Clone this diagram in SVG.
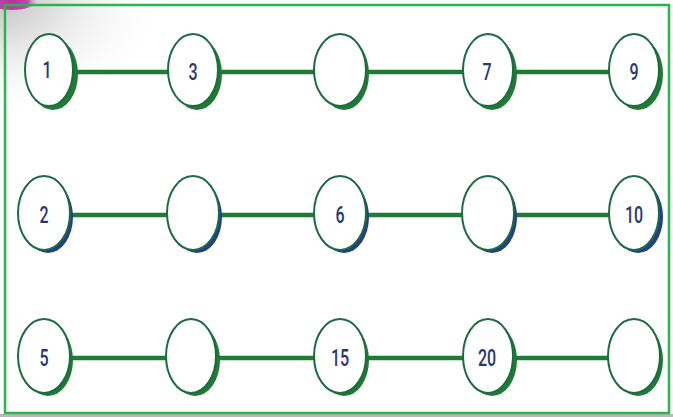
<svg xmlns="http://www.w3.org/2000/svg" width="673" height="417" viewBox="0 0 673 417">
<defs>
<radialGradient id="corner" cx="0" cy="0" r="1" gradientUnits="userSpaceOnUse" gradientTransform="translate(0,0) scale(170,120)">
<stop offset="0" stop-color="#c4c4c4"/>
<stop offset="0.45" stop-color="#ebebeb"/>
<stop offset="1" stop-color="#ffffff" stop-opacity="0"/>
</radialGradient>
<radialGradient id="blob" cx="12" cy="0" r="26" gradientUnits="userSpaceOnUse">
<stop offset="0" stop-color="#c02aa0"/>
<stop offset="0.6" stop-color="#b84aa8"/>
<stop offset="1" stop-color="#c8a0c8" stop-opacity="0"/>
</radialGradient>
</defs>
<style>
.frame{fill:none;stroke:#2bb34f;stroke-width:2.5}
.conn{stroke:#1f7a33;stroke-width:4.5;fill:none}
.sg{fill:#1f7a33}
.sb{fill:#223f8c}
.face{fill:#ffffff;stroke:#1d6b40;stroke-width:2}
.lbl{font-family:Roboto,"Liberation Sans",sans-serif;font-weight:500;font-size:20px;fill:#2a3775;text-anchor:middle;dominant-baseline:central}
</style>
<rect width="673" height="417" fill="#ffffff"/>
<rect width="200" height="130" fill="url(#corner)"/>
<ellipse cx="12" cy="0" rx="26" ry="10" fill="url(#blob)"/>
<rect x="0" y="414" width="673" height="3" fill="#b9b9b9"/>
<rect class="frame" x="5" y="5" width="664" height="408"/>
<g id="connectors">
<line class="conn" x1="49" y1="72" x2="634" y2="72"/>
<line class="conn" x1="44" y1="215" x2="634" y2="215"/>
<line class="conn" x1="44" y1="358" x2="634" y2="358"/>
</g>
<g id="n1"><ellipse class="sg" cx="53" cy="74" rx="25" ry="36"/><ellipse class="face" cx="49" cy="70" rx="24" ry="36"/><text class="lbl" transform="translate(47,70) scale(0.8,1.15)">1</text></g>
<g id="n3"><ellipse class="sg" cx="197" cy="74" rx="25" ry="36"/><ellipse class="face" cx="193" cy="70" rx="25" ry="36"/><text class="lbl" transform="translate(193,72) scale(0.8,1.15)">3</text></g>
<g id="n5b"><ellipse class="sg" cx="344" cy="74" rx="25" ry="36"/><ellipse class="face" cx="340" cy="70" rx="26" ry="36"/></g>
<g id="n7"><ellipse class="sg" cx="492" cy="74" rx="25" ry="36"/><ellipse class="face" cx="488" cy="70" rx="25" ry="36"/><text class="lbl" transform="translate(487,72) scale(0.8,1.15)">7</text></g>
<g id="n9"><ellipse class="sg" cx="638" cy="74" rx="25" ry="36"/><ellipse class="face" cx="634" cy="70" rx="25" ry="36"/><text class="lbl" transform="translate(634,72) scale(0.8,1.15)">9</text></g>
<g id="n2"><ellipse class="sb" cx="48" cy="217" rx="25" ry="36"/><ellipse class="face" cx="44" cy="213" rx="26" ry="37"/><text class="lbl" transform="translate(44,215) scale(0.8,1.15)">2</text></g>
<g id="n4b"><ellipse class="sb" cx="197" cy="217" rx="25" ry="36"/><ellipse class="face" cx="193" cy="213" rx="26" ry="37"/></g>
<g id="n6"><ellipse class="sb" cx="344" cy="217" rx="25" ry="36"/><ellipse class="face" cx="340" cy="213" rx="26" ry="37"/><text class="lbl" transform="translate(340,215) scale(0.8,1.15)">6</text></g>
<g id="n8b"><ellipse class="sb" cx="492" cy="217" rx="25" ry="36"/><ellipse class="face" cx="488" cy="213" rx="26" ry="37"/></g>
<g id="n10"><ellipse class="sb" cx="638" cy="217" rx="25" ry="36"/><ellipse class="face" cx="634" cy="213" rx="25" ry="37"/><text class="lbl" transform="translate(634,215) scale(0.8,1.15)">10</text></g>
<g id="n5"><ellipse class="sg" cx="48" cy="360" rx="25" ry="36"/><ellipse class="face" cx="44" cy="356" rx="26" ry="37"/><text class="lbl" transform="translate(44,358) scale(0.8,1.15)">5</text></g>
<g id="n10b"><ellipse class="sg" cx="195" cy="360" rx="25" ry="36"/><ellipse class="face" cx="191" cy="356" rx="25" ry="37"/></g>
<g id="n15"><ellipse class="sg" cx="344" cy="360" rx="25" ry="36"/><ellipse class="face" cx="340" cy="356" rx="26" ry="37"/><text class="lbl" transform="translate(340,358) scale(0.8,1.15)">15</text></g>
<g id="n20"><ellipse class="sg" cx="492" cy="360" rx="25" ry="36"/><ellipse class="face" cx="488" cy="356" rx="25" ry="37"/><text class="lbl" transform="translate(487,358) scale(0.8,1.15)">20</text></g>
<g id="n25b"><ellipse class="sg" cx="638" cy="360" rx="25" ry="36"/><ellipse class="face" cx="634" cy="356" rx="26" ry="37"/></g>
</svg>
